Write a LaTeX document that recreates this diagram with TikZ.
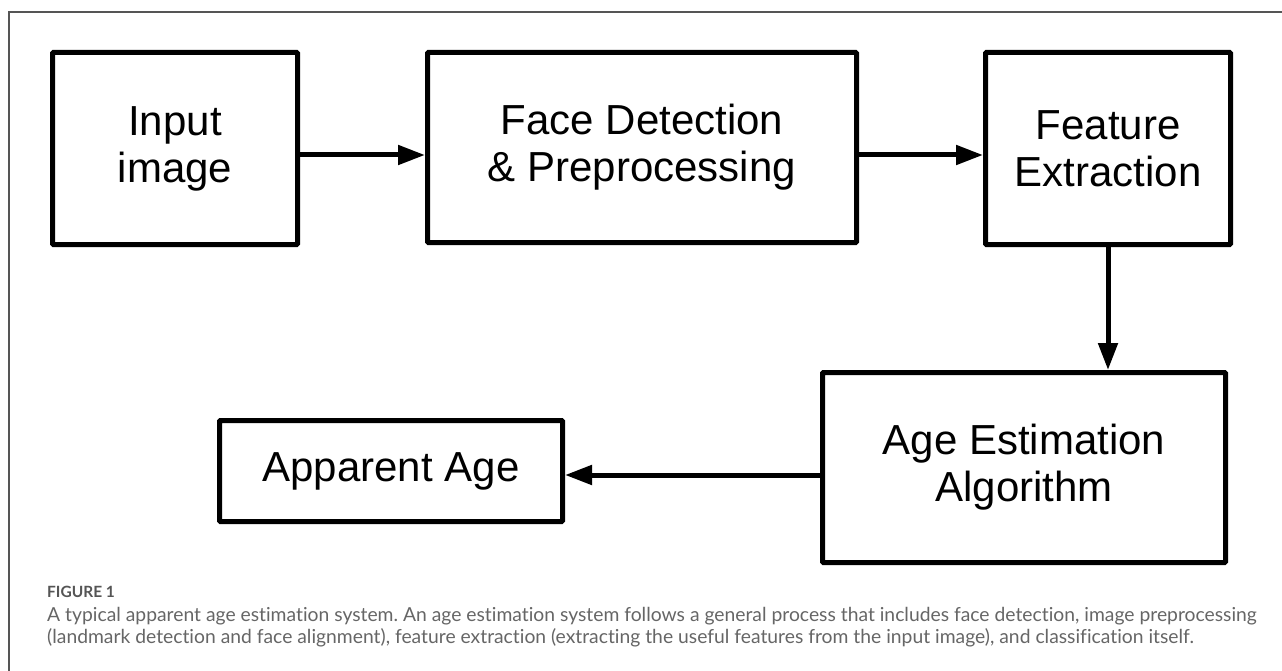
\documentclass[tikz,border=0pt]{standalone}
\usepackage{fontspec}
\setmainfont{Liberation Sans}
\newfontfamily\capfont[Ligatures=NoCommon]{Lato}
\usetikzlibrary{arrows.meta}
\frenchspacing
\definecolor{framegray}{HTML}{555555}
\definecolor{capgray}{HTML}{666666}
\definecolor{figgray}{HTML}{555555}
\tikzset{
  blockbox/.style={draw=black, line width=5pt, rounded corners=1pt, inner sep=0pt, align=center,
    font=\fontsize{42}{47}\selectfont, text=black},
  flowarrow/.style={line width=5pt, -{Triangle[length=27pt,width=19pt]}},
  captext/.style={anchor=base west, inner sep=0pt, text=capgray, font=\capfont\fontsize{19.3}{22}\selectfont},
}
\begin{document}
\begin{tikzpicture}[x=1pt,y=-1pt]
\useasboundingbox (0,0) rectangle (1282,671);
\fill[white] (0,0) rectangle (1282,671);
% frame
\draw[framegray, line width=1.3pt] (9,671) -- (9,12) -- (1282,12);
% blocks
\node[blockbox, minimum width=245pt, minimum height=192pt] (input) at (175,148.5) {Input\\image};
\node[blockbox, minimum width=429pt, minimum height=190pt] (face) at (642,147.5) {Face Detection\\\& Preprocessing};
\node[blockbox, minimum width=245pt, minimum height=192pt] (feat) at (1108,148.5) {Feature\\Extraction};
\node[blockbox, minimum width=403pt, minimum height=190pt] (age) at (1024,467.5) {Age Estimation\\Algorithm};
\node[blockbox, minimum width=343pt, minimum height=101pt] (app) at (391,471) {Apparent Age};
% connectors
\draw[flowarrow] (input.east |- {(0,155)}) -- (face.west |- {(0,155)});
\draw[flowarrow] (face.east |- {(0,155)}) -- (feat.west |- {(0,155)});
\draw[flowarrow] (feat.south) -- (age.north -| feat.south);
\draw[flowarrow] (age.west |- {(0,475)}) -- (app.east |- {(0,475)});
% caption
\node[anchor=base west, inner sep=0pt, text=figgray, font=\capfont\bfseries\fontsize{15.5}{17}\selectfont] (figlabel) at (47,597) {FIGURE 1};
\node[captext] (cap1) at (47,621) {A typical apparent age estimation system. An age estimation system follows a general process that includes face detection, image preprocessing};
\node[captext] (cap2) at (47,643) {(landmark detection and face alignment), feature extraction (extracting the useful features from the input image), and classification itself.};
\end{tikzpicture}
\end{document}
